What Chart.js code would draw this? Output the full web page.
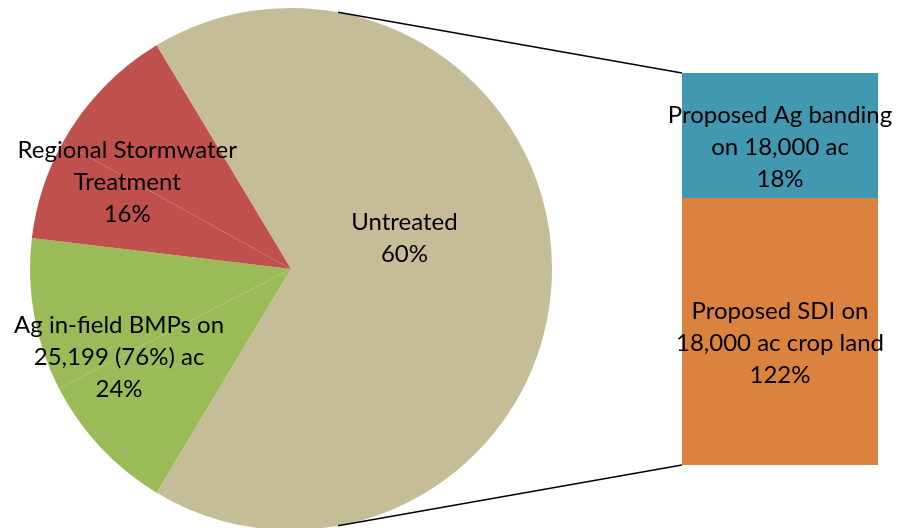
<!DOCTYPE html>
<html>
<head>
<meta charset="utf-8">
<script src="https://cdn.jsdelivr.net/npm/chart.js@4"></script>
<style>
  html, body { margin: 0; padding: 0; background: #fff; overflow: hidden; }
  #wrap { position: relative; width: 907px; height: 528px; overflow: hidden; }
  #pieBox { position: absolute; left: 0; top: 0; width: 907px; height: 540px; }
  #barBox { position: absolute; left: 0; top: 0; width: 907px; height: 528px; pointer-events: none; }
</style>
</head>
<body>
<div id="wrap">
  <div id="pieBox"><canvas id="pieChart"></canvas></div>
  <div id="barBox"><canvas id="barChart"></canvas></div>
</div>
<script>
// Pie data (the two coloured wedges are each drawn as two points, as in the original)
const pieSlices = ['Untreated', 'Ag in-field BMPs (a)', 'Ag in-field BMPs (b)', 'Regional Stormwater (a)', 'Regional Stormwater (b)'];
const pieValues = [242, 31.8, 34, 22.2, 30];
const pieGroups = [0, 1, 1, 2, 2];
const groupLabels = [
  ['Untreated', '60%'],
  ['Ag in-field BMPs on', '25,199 (76%) ac', '24%'],
  ['Regional Stormwater', 'Treatment', '16%']
];

// Bar data (bottom segment first)
const barCategories = ['Proposed SDI on 18,000 ac crop land', 'Proposed Ag banding on 18,000 ac'];
const barValues = [68, 32];
const barLabels = [
  ['Proposed SDI on', '18,000 ac crop land', '122%'],
  ['Proposed Ag banding', 'on 18,000 ac', '18%']
];

const FONT = '24px Lato, "Open Sans", sans-serif';
const groupColors = ['#C4BD97', '#9BBB59', '#C0504D'];
const barColors = ['#DA823E', '#4298B0'];

function drawLines(ctx, lines, x, y) {
  const lh = 32;
  ctx.save();
  ctx.font = FONT;
  ctx.fillStyle = '#000';
  ctx.textAlign = 'center';
  ctx.textBaseline = 'middle';
  const top = y - (lines.length - 1) * lh / 2;
  lines.forEach((t, i) => ctx.fillText(t, x, top + i * lh));
  ctx.restore();
}

// label placement per group: [angle offset deg, radius fraction]
const groupPlace = [[-15, 0.45], [-1, 0.74], [-5, 0.71]];

const pieLabelPlugin = {
  id: 'pieLabels',
  afterDatasetsDraw(chart) {
    const arcs = chart.getDatasetMeta(0).data;
    const ctx = chart.ctx;
    groupLabels.forEach((lines, g) => {
      const idx = pieGroups.map((v, i) => v === g ? i : -1).filter(i => i >= 0);
      const first = arcs[idx[0]], last = arcs[idx[idx.length - 1]];
      const mid = (first.startAngle + last.endAngle) / 2 + groupPlace[g][0] * Math.PI / 180;
      const r = first.outerRadius * groupPlace[g][1];
      drawLines(ctx, lines, first.x + Math.cos(mid) * r, first.y + Math.sin(mid) * r);
    });
  }
};

const pieChart = new Chart(document.getElementById('pieChart'), {
  type: 'pie',
  data: {
    labels: pieSlices,
    datasets: [{
      data: pieValues,
      backgroundColor: pieGroups.map(g => groupColors[g]),
      borderWidth: 0
    }]
  },
  options: {
    responsive: true,
    maintainAspectRatio: false,
    animation: false,
    rotation: -31,
    layout: { padding: { top: 8, bottom: 10, left: 30, right: 355 } },
    plugins: { legend: { display: false }, tooltip: { enabled: false } }
  },
  plugins: [pieLabelPlugin]
});

const barExtras = {
  id: 'barExtras',
  afterDatasetsDraw(chart) {
    const ctx = chart.ctx;
    const bottom = chart.getDatasetMeta(0).data[0];
    const top = chart.getDatasetMeta(1).data[0];
    // segment labels
    [bottom, top].forEach((el, i) => {
      drawLines(ctx, barLabels[i], el.x, (el.y + el.base) / 2 + 12);
    });
    // connector lines from the pie edge to the bar corners
    const arc = pieChart.getDatasetMeta(0).data[0];
    const a = 10.4 * Math.PI / 180;
    const px = arc.x + Math.sin(a) * arc.outerRadius;
    const left = top.x - top.width / 2;
    ctx.save();
    ctx.strokeStyle = '#000';
    ctx.lineWidth = 1.5;
    ctx.beginPath();
    ctx.moveTo(px, arc.y - Math.cos(a) * arc.outerRadius);
    ctx.lineTo(left, top.y);
    ctx.moveTo(px, arc.y + Math.cos(a) * arc.outerRadius);
    ctx.lineTo(left, bottom.base);
    ctx.stroke();
    ctx.restore();
  }
};

new Chart(document.getElementById('barChart'), {
  type: 'bar',
  data: {
    labels: ['Other'],
    datasets: barCategories.map((name, i) => ({
      label: name,
      data: [barValues[i]],
      backgroundColor: barColors[i],
      borderWidth: 0,
      barPercentage: 1,
      categoryPercentage: 1
    }))
  },
  options: {
    responsive: true,
    maintainAspectRatio: false,
    animation: false,
    layout: { padding: { top: 73, bottom: 63, left: 682, right: 29 } },
    scales: {
      x: { stacked: true, display: false },
      y: { stacked: true, display: false, min: 0, max: 100 }
    },
    plugins: { legend: { display: false }, tooltip: { enabled: false } }
  },
  plugins: [barExtras]
});
</script>
</body>
</html>
